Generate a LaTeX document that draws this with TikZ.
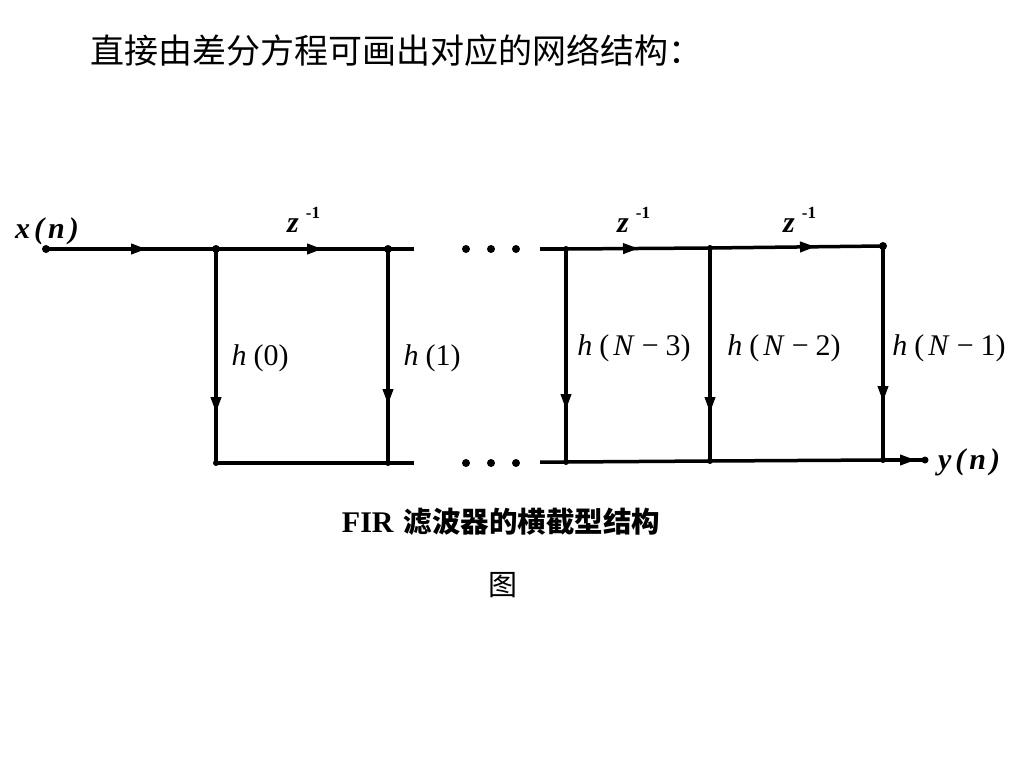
\documentclass[tikz,border=0pt]{standalone}
\usepackage{fontspec}
\setmainfont{Liberation Serif}
\newfontfamily\cjk{Noto Sans CJK SC}
\usetikzlibrary{arrows.meta,decorations.markings}
\newcommand{\sgap}{\hspace{7pt}}
\newcommand{\tgap}{\hspace{4pt}}
\newcommand{\zinv}{\textbf{\textit{z}}\hspace{7pt}\raisebox{14pt}{\fontsize{17}{17}\selectfont\bfseries -1}}
\begin{document}
\begin{tikzpicture}[x=1pt,y=-1pt,
  wire/.style={line width=3.5pt},
  dotnode/.style={circle,fill=black,inner sep=0pt,minimum size=8pt},
  arrowat/.style={postaction={decorate},decoration={markings,
     mark=at position #1 with {\arrow[line width=1pt]{Triangle[length=15pt,width=11pt]}}}},
  lbl/.style={font=\fontsize{30}{34}\selectfont,inner sep=0pt},
  zlbl/.style={font=\fontsize{30}{34}\selectfont,inner sep=0pt},
  ellip/.style={circle,fill=black,inner sep=0pt,minimum size=8pt}]
\useasboundingbox (0,0) rectangle (1024,768);
% title
\node[font=\cjk\fontsize{34}{38}\selectfont,anchor=west,inner sep=0pt] (title) at (90,50) {直接由差分方程可画出对应的网络结构：};
% top-left chain
\node[dotnode] (x0) at (46,249) {};
\node[dotnode] (n0) at (216,249) {};
\node[dotnode] (n1) at (388,249) {};
\coordinate (e1) at (414,249);
% bottom-left
\node[dotnode,minimum size=6pt] (m0) at (216,463) {};
\node[dotnode,minimum size=6pt] (m1) at (388,463) {};
\coordinate (e2) at (414,463);
% ellipsis dots
\node[ellip] (d1) at (466,249) {};
\node[ellip] (d2) at (491,249) {};
\node[ellip] (d3) at (516,249) {};
\node[ellip] (b1) at (466,463) {};
\node[ellip] (b2) at (491,463) {};
\node[ellip] (b3) at (516,463) {};
% top-right chain
\coordinate (s2) at (540,249);
\node[dotnode,minimum size=6pt] (n2) at (566,249) {};
\node[dotnode,minimum size=6pt] (n3) at (710,248) {};
\node[dotnode] (n4) at (883,246) {};
% bottom-right chain
\coordinate (s3) at (540,462);
\node[dotnode,minimum size=6pt] (m2) at (566,462) {};
\node[dotnode,minimum size=6pt] (m3) at (710,461) {};
\node[dotnode,minimum size=6pt] (m4) at (883,460) {};
\node[dotnode,minimum size=7pt] (out) at (925,460) {};
% wires
\draw[wire,arrowat=100pt] (x0.center) -- (n0.center);
\draw[wire,arrowat=106pt] (n0.center) -- (n1.center);
\draw[wire] (n1.center) -- (e1);
\draw[wire] (m0.center) -- (m1.center) -- (e2);
\draw[wire] (s2) -- (n2.center);
\draw[wire,arrowat=72pt] (n2.center) -- (n3.center);
\draw[wire,arrowat=105pt] (n3.center) -- (n4.center);
\draw[wire] (s3) -- (m2.center) -- (m3.center) -- (m4.center);
\draw[wire,arrowat=32pt] (m4.center) -- (out.center);
\draw[wire,arrowat=163pt] (n0.center) -- (m0.center);
\draw[wire,arrowat=155pt] (n1.center) -- (m1.center);
\draw[wire,arrowat=160pt] (n2.center) -- (m2.center);
\draw[wire,arrowat=164pt] (n3.center) -- (m3.center);
\draw[wire,arrowat=155pt] (n4.center) -- (m4.center);
% labels
\node[zlbl,anchor=base west] (lx) at (15,238) {\bfseries\itshape x\tgap(\tgap n\tgap)};
\node[zlbl,anchor=base west] (lz1) at (287,232) {\zinv};
\node[zlbl,anchor=base west] (lz2) at (617,232) {\zinv};
\node[zlbl,anchor=base west] (lz3) at (783,232) {\zinv};
\node[lbl] (h0) at (260,358) {\textit{h}\sgap(0)};
\node[lbl] (h1) at (432,358) {\textit{h}\sgap(1)};
\node[lbl] (h2) at (634,348) {\textit{h}\sgap(\tgap\textit{N}\sgap−\sgap3)};
\node[lbl] (h3) at (784,348) {\textit{h}\sgap(\tgap\textit{N}\sgap−\sgap2)};
\node[lbl] (h4) at (949,348) {\textit{h}\sgap(\tgap\textit{N}\sgap−\sgap1)};
\node[zlbl] (ly) at (969,462) {\bfseries\itshape y\tgap(\tgap n\tgap)};
% caption
\node[inner sep=0pt] (cap) at (501,522) {\fontsize{30}{34}\selectfont\bfseries FIR\hspace{10pt}{\cjk\bfseries\fontsize{28.5}{32}\selectfont 滤波器的横截型结构}};
\node[font=\cjk\fontsize{29}{32}\selectfont,inner sep=0pt] (fig) at (503,585) {图};
\end{tikzpicture}
\end{document}
